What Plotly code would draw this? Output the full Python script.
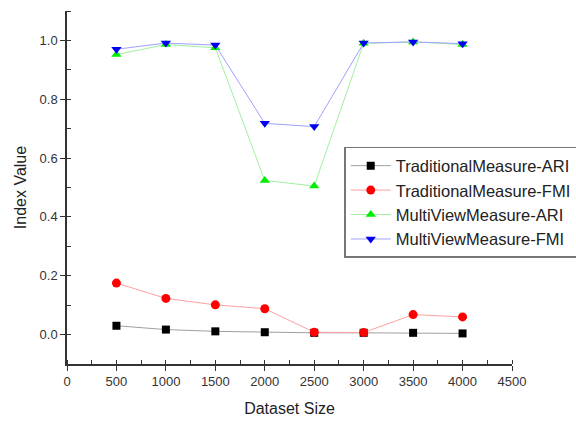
import plotly.graph_objects as go

dataset_size = [500, 1000, 1500, 2000, 2500, 3000, 3500, 4000]
trad_ari = [0.030, 0.017, 0.011, 0.008, 0.006, 0.006, 0.006, 0.004]
trad_fmi = [0.175, 0.123, 0.101, 0.088, 0.008, 0.007, 0.068, 0.060]
mv_ari = [0.952, 0.986, 0.975, 0.524, 0.505, 0.990, 0.995, 0.986]
mv_fmi = [0.970, 0.991, 0.984, 0.718, 0.707, 0.991, 0.995, 0.989]

series = [
    ("TraditionalMeasure-ARI", trad_ari, "#000000", "#a0a0a0", "square"),
    ("TraditionalMeasure-FMI", trad_fmi, "#ff0000", "#ffa0a0", "circle"),
    ("MultiViewMeasure-ARI", mv_ari, "#00ee00", "#a0f0a0", "triangle-up"),
    ("MultiViewMeasure-FMI", mv_fmi, "#0000ee", "#a0a0ff", "triangle-down"),
]

FONT = "Arial, Liberation Sans, sans-serif"

fig = go.Figure()
for name, vals, mc, lc, sym in series:
    fig.add_trace(go.Scatter(
        x=dataset_size, y=vals, name=name, mode="lines+markers",
        line=dict(color=lc, width=1),
        marker=dict(symbol=sym, color=mc, size=9 if sym != "square" else 8),
    ))

axis_common = dict(
    showline=True, linecolor="#333333", linewidth=1.5,
    showgrid=False, zeroline=False, ticks="outside", ticklen=5,
    tickwidth=1.2, tickcolor="#333333",
    tickfont=dict(family=FONT, size=13, color="#333333"),
    mirror=False, automargin=False,
)

fig.update_xaxes(
    **axis_common, range=[0, 4500], tick0=0, dtick=500,
    title=dict(text="Dataset Size", font=dict(family=FONT, size=16, color="#222222"), standoff=14),
    minor=dict(ticks="inside", dtick=250, ticklen=4, tickcolor="#333333", tickwidth=1.2),
)
fig.update_yaxes(
    **axis_common, range=[-0.1, 1.1], tick0=0, dtick=0.2, tickformat=".1f",
    title=dict(text="Index Value", font=dict(family=FONT, size=16, color="#222222"), standoff=9),
    minor=dict(ticks="inside", dtick=0.1, ticklen=4, tickcolor="#333333", tickwidth=1.2),
)

fig.update_layout(
    width=576, height=421,
    margin=dict(l=67, r=64, t=11, b=57, autoexpand=False),
    paper_bgcolor="white", plot_bgcolor="white",
    font=dict(family=FONT),
    legend=dict(
        x=0.623, y=0.615, xanchor="left", yanchor="top",
        bgcolor="white", bordercolor="#777777", borderwidth=1.5,
        font=dict(family=FONT, size=16.5, color="#222222"),
        tracegroupgap=0, itemwidth=40,
    ),
    showlegend=True,
)

fig.write_html("out.html", config={"displayModeBar": False},
               post_script="document.body.style.margin='0px';")
